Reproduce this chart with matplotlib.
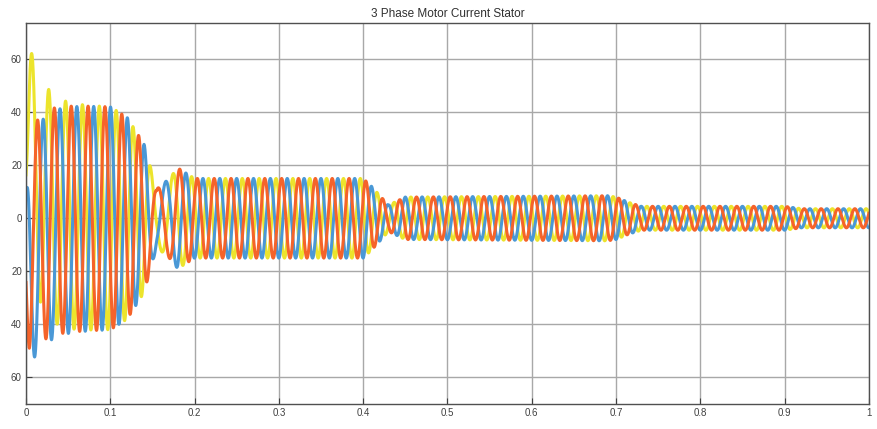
import numpy as np
import matplotlib.pyplot as plt

plt.rcParams['font.family'] = ['Liberation Sans', 'DejaVu Sans']

# envelope of the phase currents (time s, peak A)
env_t = [0.0, 0.004, 0.02, 0.10, 0.12, 0.14, 0.155, 0.17, 0.18, 0.20, 0.40, 0.41, 0.43, 0.45,
         0.69, 0.70, 0.715, 0.73, 0.90, 0.92, 1.0]
env_a = [30, 40, 43, 42, 38, 28, 11, 15, 19, 15, 15, 12, 5, 8, 8.5, 8, 6, 4.5, 4.5, 3.6, 3.6]

# supply frequency seen on the trace (slows down during the 0.15-0.2 s dip)
freq_t = [0.0, 0.14, 0.155, 0.175, 0.195, 1.0]
freq_v = [50, 50, 34, 40, 50, 50]

# start-up dc offsets of each phase and their decay time
phases = ['yellow', 'blue', 'orange']
phase_shift = [0.0, 2 * np.pi / 3, -2 * np.pi / 3]
dc_offset = [34, -22, -12]
dc_tau = 0.015
phase0 = -0.628

colors = {'yellow': '#ECE42C', 'blue': '#4A98D6', 'orange': '#F5632A'}

xticks = [0, 0.1, 0.2, 0.3, 0.4, 0.5, 0.6, 0.7, 0.8, 0.9, 1]
xlabels = ['0', '0.1', '0.2', '0.3', '0.4', '0.5', '0.6', '0.7', '0.8', '0.9', '1']
yticks = [-60, -40, -20, 0, 20, 40, 60]
ylabels = ['60', '40', '20', '0', '20', '40', '60']

t = np.linspace(0, 1, 20000)
amp = np.interp(t, env_t, env_a)
freq = np.interp(t, freq_t, freq_v)
theta = 2 * np.pi * np.concatenate([[0], np.cumsum(freq[1:] * np.diff(t))])

fig = plt.figure(figsize=(8.78, 4.29), dpi=100)
ax = fig.add_axes([0.0296, 0.0576, 0.9601, 0.8895])

for name, shift, dc in zip(phases, phase_shift, dc_offset):
    i = amp * np.sin(theta + phase0 + shift) + dc * np.exp(-t / dc_tau)
    ax.plot(t, i, color=colors[name], lw=2.2, zorder=2)

ax.set_xlim(0, 1)
ax.set_ylim(-70.1, 73.7)
ax.set_xticks(xticks)
ax.set_xticklabels(xlabels)
ax.set_yticks(yticks)
ax.set_yticklabels(ylabels)
ax.grid(True, color='#a8a8a8', lw=1.0, zorder=1)
ax.tick_params(direction='in', length=4, labelsize=7, colors='#404040', pad=3)
for s in ax.spines.values():
    s.set_color('#505050')
    s.set_linewidth(1.0)

ax.set_title('3 Phase Motor Current Stator', fontsize=8.5, color='#303030', pad=4)

fig.savefig('out.png', dpi=100)
